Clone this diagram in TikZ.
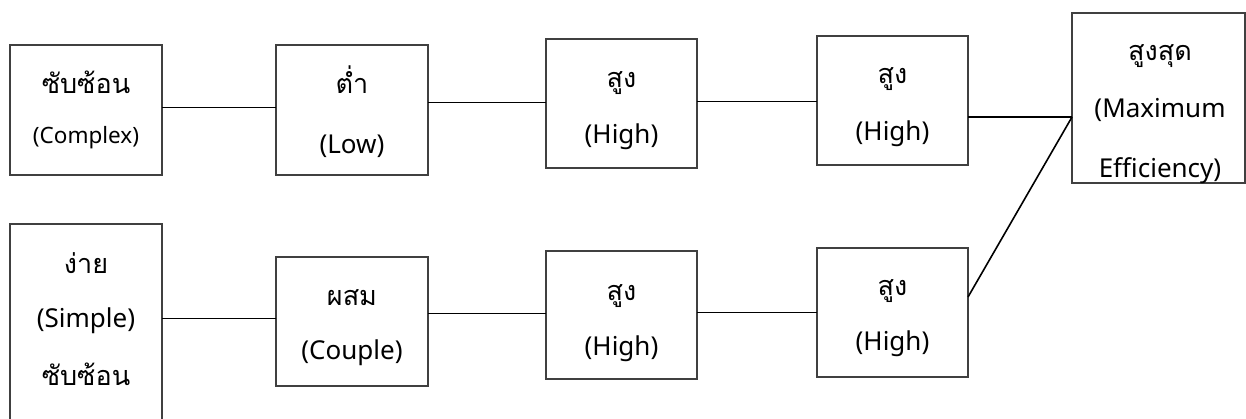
\documentclass[tikz,border=0pt]{standalone}
\usepackage{fontspec}
\setmainfont{Noto Sans}
\newfontfamily\thai[Script=Thai]{Loma}
\begin{document}
\begin{tikzpicture}[x=1pt,y=-1pt,
  box/.style={draw=black!75,line width=1.2pt,inner sep=0pt,outer sep=0pt,minimum width=#1},
  th/.style={font=\thai\fontsize{27}{27}\selectfont,anchor=base,inner sep=0pt},
  en/.style={font=\fontsize{26}{26}\selectfont,anchor=base,inner sep=0pt},
  link/.style={draw=black,line width=1pt},
  bold link/.style={draw=black,line width=1.6pt}]
\useasboundingbox (0,0) rectangle (1246,418);
% boxes
\node[box=152pt,minimum height=130pt] (b1) at (86,110) {};
\node[box=152pt,minimum height=130pt] (b2) at (352,110) {};
\node[box=151pt,minimum height=129pt] (b3) at (621.5,103.5) {};
\node[box=151pt,minimum height=129pt] (b4) at (892.5,100.5) {};
\node[box=173pt,minimum height=170pt] (b5) at (1158.5,98) {};
\node[box=152pt,minimum height=210pt] (b6) at (86,329) {};
\node[box=152pt,minimum height=129pt] (b7) at (352,321.5) {};
\node[box=151pt,minimum height=128pt] (b8) at (621.5,315) {};
\node[box=151pt,minimum height=129pt] (b9) at (892.5,312.5) {};
% texts
\node[th] (t1a) at (86,93) {ซับซ้อน};
\node[en,font=\fontsize{22.5}{22.5}\selectfont] (t1b) at (86,143) {(Complex)};
\node[th] (t2a) at (352,93) {ต่ำ};
\node[en] (t2b) at (352,153) {(Low)};
\node[th] (t3a) at (621.5,87) {สูง};
\node[en] (t3b) at (621.5,143) {(High)};
\node[th] (t4a) at (892.5,83) {สูง};
\node[en] (t4b) at (892.5,140) {(High)};
\node[th] (t5a) at (1160,60) {สูงสุด};
\node[en] (t5b) at (1160,117) {(Maximum};
\begin{scope}
\clip (b5.north west) rectangle (b5.south east);
\node[en] (t5c) at (1160,177) {Efficiency)};
\end{scope}
\node[th] (t6a) at (86,273) {ง่าย};
\node[en] (t6b) at (86,327) {(Simple)};
\node[th] (t6c) at (86,385) {ซับซ้อน};
\node[th] (t7a) at (352,305) {ผสม};
\node[en] (t7b) at (352,359) {(Couple)};
\node[th] (t8a) at (621.5,300) {สูง};
\node[en] (t8b) at (621.5,355) {(High)};
\node[th] (t9a) at (892.5,295) {สูง};
\node[en] (t9b) at (892.5,350) {(High)};
% connectors
\draw[link] (b1.east |- 0,107) -- (b2.west |- 0,107);
\draw[link] (b2.east |- 0,102) -- (b3.west |- 0,102);
\draw[link] (b3.east |- 0,101) -- (b4.west |- 0,101);
\draw[bold link] (b4.east |- 0,117) -- (b5.west |- 0,117);
\draw[link] (b6.east |- 0,318) -- (b7.west |- 0,318);
\draw[link] (b7.east |- 0,313) -- (b8.west |- 0,313);
\draw[link] (b8.east |- 0,312) -- (b9.west |- 0,312);
\draw[bold link] (b9.east |- 0,297) -- (b5.west |- 0,117);
\end{tikzpicture}
\end{document}
